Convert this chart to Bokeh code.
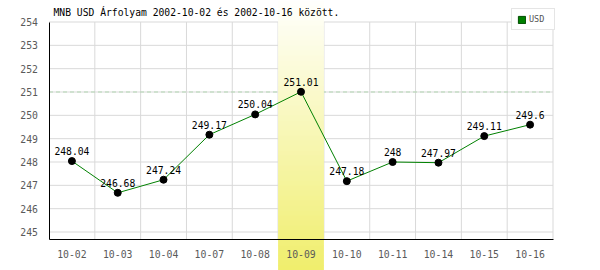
from bokeh.plotting import figure
from bokeh.models import (Range1d, FixedTicker, BoxAnnotation, Label, Legend,
                          LegendItem, ColumnDataSource)
from bokeh.embed import file_html
from bokeh.resources import INLINE

# ---- data ----
dates = ["10-02", "10-03", "10-04", "10-07", "10-08", "10-09",
         "10-10", "10-11", "10-14", "10-15", "10-16"]
usd = [248.04, 246.68, 247.24, 249.17, 250.04, 251.01,
       247.18, 248.00, 247.97, 249.11, 249.60]
y_ticks = [245, 246, 247, 248, 249, 250, 251, 252, 253, 254]
highlight_date = "10-09"
ref_level = 251
series_name = "USD"
title_text = "MNB USD Árfolyam 2002-10-02 és 2002-10-16 között."

xs = list(range(len(dates)))
labels = ["%g" % v for v in usd]
src = ColumnDataSource(dict(x=xs, y=usd, label=labels))

MONO = "DejaVu Sans Mono"
GREEN = "#008000"

# ---- layout: the frame covers the whole canvas; axes sit at fixed locations ----
W, H = 600, 270
plot_left, plot_right = 48.5, 552.5          # canvas px of the plotting area
plot_top, plot_bottom = 21.5, 238.5
y_lo, y_hi = 244.7, y_ticks[-1]
x_lo, x_hi = -0.5, len(dates) - 0.5
ppx = (plot_right - plot_left) / (x_hi - x_lo)
ppy = (plot_bottom - plot_top) / (y_hi - y_lo)
x_range = Range1d(x_lo - plot_left / ppx, x_hi + (W - plot_right) / ppx)
y_range = Range1d(y_lo - (H - plot_bottom) / ppy, y_hi + plot_top / ppy)

p = figure(width=W, height=H, output_backend="svg", toolbar_location=None,
           x_range=x_range, y_range=y_range,
           min_border_left=0, min_border_right=0, min_border_top=0, min_border_bottom=0)
p.outline_line_color = None
p.background_fill_color = "white"
p.border_fill_color = "white"
p.title.visible = False
p.grid.visible = False

# axes
p.xaxis.ticker = FixedTicker(ticks=xs)
p.xaxis.major_label_overrides = {i: d for i, d in zip(xs, dates)}
p.xaxis.fixed_location = y_lo
p.xaxis.bounds = (x_lo, x_hi)
p.yaxis.ticker = FixedTicker(ticks=y_ticks)
p.yaxis.fixed_location = x_lo
p.yaxis.bounds = (y_lo, y_hi)
for ax in (p.xaxis[0], p.yaxis[0]):
    ax.axis_line_color = "black"
    ax.axis_line_width = 1
    ax.major_tick_line_color = None
    ax.minor_tick_line_color = None
    ax.major_label_text_font = MONO
    ax.major_label_text_font_size = "9.8px"
    ax.major_label_text_color = "#5a5a5a"
    ax.major_label_standoff = 5

# grid lines limited to the plotting area (drawn below the highlight band)
bounds_x = [i + 0.5 for i in xs]
p.segment(x0=bounds_x, y0=[y_lo] * len(bounds_x), x1=bounds_x, y1=[y_hi] * len(bounds_x),
          line_color="#d9d9d9", line_width=1, level="underlay")
p.segment(x0=[x_lo] * len(y_ticks), y0=y_ticks, x1=[x_hi] * len(y_ticks), y1=y_ticks,
          line_color="#d9d9d9", line_width=1, level="underlay")
p.segment(x0=[x_lo], y0=[ref_level], x1=[x_hi], y1=[ref_level],
          line_color="#b3d6b3", line_dash="4 3", line_width=1, level="underlay")

# highlighted column with vertical gradient
hi = dates.index(highlight_date)
N = 54
c0 = (255, 255, 253)
c1 = (240, 238, 108)
for k in range(N):
    t = (k + 0.5) / N
    col = "#%02x%02x%02x" % tuple(int(round(a + (b - a) * t)) for a, b in zip(c0, c1))
    p.add_layout(BoxAnnotation(left=hi - 0.5, right=hi + 0.5,
                               top=k * H / N, bottom=(k + 1) * H / N + 0.6,
                               top_units="canvas", bottom_units="canvas",
                               fill_color=col, fill_alpha=1, line_color=None,
                               level="underlay"))

# title
p.add_layout(Label(x=53, y=12, x_units="canvas", y_units="canvas", text=title_text,
                   text_font=MONO, text_font_size="9.7px", text_color="black",
                   text_baseline="middle", text_align="left"))

# series
p.line("x", "y", source=src, line_color=GREEN, line_width=1)
p.scatter("x", "y", source=src, size=7, fill_color="black", line_color="black")
p.text("x", "y", text="label", source=src, text_font={"value": MONO},
       text_font_size="9.7px", text_color="black", text_align="center",
       text_baseline="bottom", y_offset=-6)

# legend (green square)
leg_r = p.vbar(x="x", top="y", width=0.3, source=src, fill_color=GREEN,
               line_color="#004d00", visible=False)
legend = Legend(items=[LegendItem(label=series_name, renderers=[leg_r])],
                location=(511, H - 30), orientation="vertical",
                glyph_width=9, glyph_height=9, label_height=8, label_standoff=3,
                padding=5, margin=0, spacing=0,
                label_text_font=MONO, label_text_font_size="8.5px",
                label_text_color="#555555",
                border_line_color="#cccccc", border_line_width=1,
                background_fill_color="white", background_fill_alpha=1)
p.add_layout(legend, "center")

open("out.html", "w").write(file_html(p, INLINE))
